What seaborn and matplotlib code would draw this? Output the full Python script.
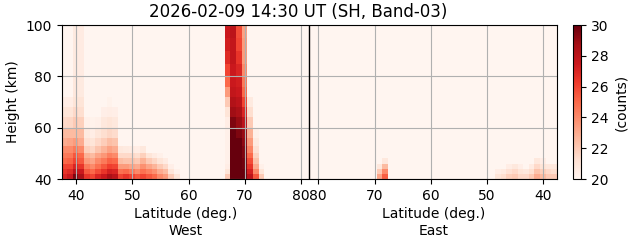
import numpy as np
import pandas as pd
import matplotlib
matplotlib.use("Agg")
import matplotlib.pyplot as plt
import matplotlib.transforms as mtransforms
import seaborn as sns

# ---------------- data ----------------
title = "2026-02-09 14:30 UT (SH, Band-03)"
height_edges = [40, 42, 44, 46, 48, 50, 53, 56, 60, 64, 68, 72, 76, 80, 85, 90, 95, 100]
west_lats = list(range(38, 82))        # West half, ascending latitude
east_lats = list(range(81, 37, -1))    # East half, descending latitude
background = 20.0

# West, low-latitude enhancement (values per height band, bottom up)
west_low_lats = [38, 39, 40, 41, 42, 43, 44, 45, 46, 47, 48, 49, 50, 51, 52, 53, 54, 55, 56, 57, 58]
west_low_profiles = [
    [27.0, 26.5, 26.0, 25.0, 24.5, 24.0, 23.0, 22.5, 21.5, 21.0, 20.5],
    [27.5, 26.8, 26.0, 25.2, 24.6, 24.0, 23.2, 22.5, 21.6, 21.0, 20.5],
    [29.5, 28.0, 27.0, 26.0, 25.5, 24.5, 23.5, 22.5, 22.0, 21.5, 21.0, 20.8, 20.8, 20.7, 20.7, 20.7, 20.7],
    [28.5, 27.5, 26.5, 25.5, 25.0, 24.0, 23.0, 22.5, 21.8, 21.3, 21.0, 20.7, 20.7, 20.6, 20.6, 20.6, 20.6],
    [26.5, 25.5, 24.5, 23.5, 22.8, 21.8, 21.2, 20.7, 20.3],
    [26.0, 25.0, 24.0, 23.2, 22.5, 21.6, 21.0, 20.5, 20.2],
    [27.0, 25.8, 24.8, 24.0, 23.2, 22.2, 21.5, 20.9, 20.3],
    [27.5, 26.5, 25.5, 24.5, 23.6, 22.7, 21.9, 21.3, 20.8, 20.4],
    [28.5, 27.2, 26.2, 25.2, 24.3, 23.3, 22.4, 21.6, 21.0, 20.5, 20.2],
    [28.0, 27.0, 26.0, 25.0, 24.0, 23.0, 22.2, 21.4, 20.8, 20.4],
    [26.0, 24.8, 23.5, 22.4, 21.5, 20.8],
    [26.5, 25.0, 23.5, 22.2, 21.5, 20.7],
    [26.0, 24.5, 23.2, 22.2, 21.5, 20.6],
    [25.5, 24.0, 23.0, 22.0, 21.3, 20.5],
    [26.0, 24.8, 23.8, 22.8, 21.8, 20.8],
    [25.5, 24.3, 23.2, 22.0, 21.0],
    [25.0, 23.8, 22.7, 21.6, 20.6],
    [24.0, 23.0, 22.0, 21.0, 20.3],
    [23.5, 22.5, 21.5, 20.6],
    [22.0, 21.0, 20.4],
    [21.0, 20.3],
]

# West, narrow intense band near 68 deg
west_band_lats = [67, 68, 69, 70, 71, 72, 73]
west_band_profiles = [
    [22.0, 21.0, 20.5, 20.3, 20.3, 20.3, 20.3, 20.3, 20.5, 21.0, 22.0, 23.5, 25.0, 26.0, 26.8, 27.3, 27.5],
    [30.0, 30.0, 30.0, 30.0, 30.0, 30.0, 30.0, 30.0, 29.5, 28.8, 28.3, 27.8, 27.5, 27.5, 27.8, 27.8, 28.0],
    [30.0, 30.0, 30.0, 30.0, 30.0, 30.0, 30.0, 29.5, 29.0, 28.5, 28.0, 27.5, 27.3, 27.0, 26.5, 26.0, 25.8],
    [30.0, 30.0, 29.8, 29.8, 29.5, 29.5, 29.2, 29.0, 28.0, 27.0, 26.0, 25.0, 24.5, 24.0, 23.5, 23.5, 23.3],
    [28.0, 27.2, 26.5, 25.8, 25.0, 24.2, 23.5, 22.8, 22.0, 21.3, 20.7],
    [25.5, 24.0, 23.0, 22.3, 21.7, 21.2, 20.7, 20.3],
    [22.0, 21.0, 20.3],
]

# East, weak enhancements near the ground
east_active_lats = [69, 68, 48, 47, 46, 45, 44, 43, 42, 41, 40, 39, 38]
east_active_profiles = [
    [23.2, 22.0, 20.8],
    [25.3, 24.0, 22.5, 20.8],
    [21.0, 20.5],
    [21.3, 20.7],
    [21.8, 21.2, 20.5],
    [22.0, 21.5, 20.8],
    [21.5, 21.0, 20.4],
    [21.5, 20.8],
    [22.0, 21.3, 20.6],
    [23.0, 22.3, 21.5, 20.8],
    [22.5, 21.8, 21.0, 20.5],
    [22.0, 21.5, 20.8],
    [22.0, 21.3, 20.8],
]

lat_ticks = [40, 50, 60, 70, 80]
height_ticks = [40, 60, 80, 100]
cbar_ticks = [20, 22, 24, 26, 28, 30]
vmin, vmax = 20, 30

# ---------------- build the grid ----------------
band_rows = np.diff(height_edges)
n_rows = int(band_rows.sum())
n_cols = len(west_lats) + len(east_lats)


def column(profile):
    vals = list(profile) + [background] * (len(band_rows) - len(profile))
    return np.repeat(vals, band_rows)


grid = np.full((n_rows, n_cols), background)   # bottom-up rows
for lat, prof in zip(west_low_lats + west_band_lats, west_low_profiles + west_band_profiles):
    grid[:, west_lats.index(lat)] = column(prof)
for lat, prof in zip(east_active_lats, east_active_profiles):
    grid[:, len(west_lats) + east_lats.index(lat)] = column(prof)

heights = np.arange(height_edges[0], height_edges[-1]) + 0.5
df = pd.DataFrame(grid[::-1], index=heights[::-1], columns=range(n_cols))

# ---------------- figure ----------------
W, H = 631, 243
fig = plt.figure(figsize=(W / 100, H / 100), dpi=100)
ax = fig.add_axes([61.5 / W, 64 / H, 495.5 / W, 154 / H])
cax = fig.add_axes([572.7 / W, 64 / H, 8.3 / W, 154 / H])

sns.heatmap(df, cmap="Reds", vmin=vmin, vmax=vmax, ax=ax, cbar_ax=cax,
            xticklabels=False, yticklabels=False)

# latitude -> column coordinate
west_left = 37.42
east_right = 37.6
xt_pos = [lt - west_left for lt in lat_ticks] + [n_cols - (lt - east_right) for lt in lat_ticks]
xt_lab = [str(lt) for lt in lat_ticks] + [str(lt) for lt in lat_ticks]
ax.set_xticks(xt_pos)
ax.set_xticklabels(xt_lab, rotation=0, fontsize=10)
ax.set_yticks([height_edges[-1] - h for h in height_ticks])
ax.set_yticklabels([str(h) for h in height_ticks], rotation=0, fontsize=10)
ax.tick_params(axis="both", length=3.5, width=0.8, direction="out")
ax.set_xlim(0, n_cols)
ax.set_ylim(n_rows, 0)

ax.grid(True, color="#b0b0b0", linewidth=0.8)
ax.axvline(len(west_lats), color="black", linewidth=1.0)
for sp in ax.spines.values():
    sp.set_visible(True)
    sp.set_color("black")
    sp.set_linewidth(0.8)

ax.set_xlabel("")
ax.set_ylabel("Height (km)", fontsize=10)
ax.set_title(title, fontsize=12, x=(298 - 61.5) / 495.5)

trans = mtransforms.blended_transform_factory(ax.transData, ax.transAxes)
ax.text(len(west_lats) / 2, -0.185, "Latitude (deg.)\nWest", transform=trans,
        ha="center", va="top", fontsize=10)
ax.text(len(west_lats) + len(east_lats) / 2, -0.185, "Latitude (deg.)\nEast", transform=trans,
        ha="center", va="top", fontsize=10)

cbar = ax.collections[0].colorbar
cbar.outline.set_visible(True)
cbar.outline.set_linewidth(0.8)
cbar.outline.set_edgecolor("black")
cbar.set_ticks(cbar_ticks)
cbar.ax.tick_params(labelsize=10, length=3.5, width=0.8)
cbar.set_label("(counts)", fontsize=10)

fig.savefig("out.png", dpi=100)
